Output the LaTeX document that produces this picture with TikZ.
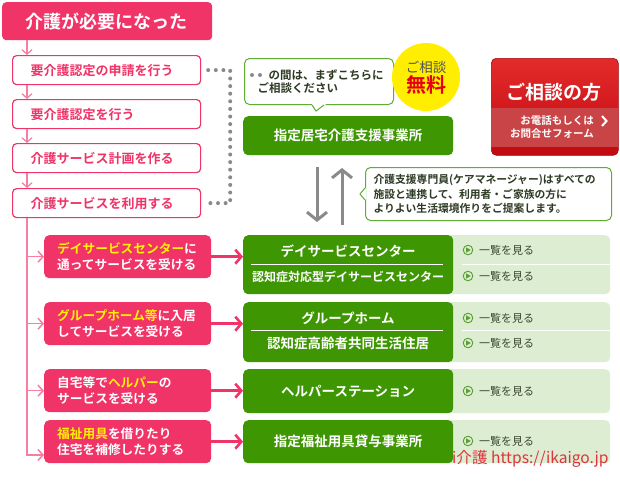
\documentclass[tikz,border=0pt]{standalone}
\usepackage{fontspec}
\setmainfont{Noto Sans CJK JP}[BoldFont={Noto Sans CJK JP Bold}]
\usetikzlibrary{arrows.meta,calc}
\definecolor{pk}{HTML}{F03468}
\definecolor{lpk}{HTML}{F47FA0}
\definecolor{gr}{HTML}{3E9702}
\definecolor{lgr}{HTML}{DCEDD2}
\definecolor{ye}{HTML}{FFF100}
\definecolor{cy}{HTML}{FFEE00}
\definecolor{dg}{HTML}{8A8A8A}
\definecolor{tx}{HTML}{2E3B24}
\definecolor{lk}{HTML}{3A4630}
\definecolor{rd}{HTML}{E60012}
\definecolor{bubg}{HTML}{5FAE34}
\definecolor{icg}{HTML}{5A9E36}
\definecolor{btop}{HTML}{E42B2B}
\definecolor{bbot}{HTML}{C00A10}
\definecolor{bband}{HTML}{C94446}
\definecolor{wm}{HTML}{E0323C}
\newcommand{\fsz}[2]{\fontsize{#1}{#2}\selectfont}
\newcommand{\hly}[1]{\textcolor{ye}{#1}}
\tikzset{
  topbox/.style={anchor=north west, fill=pk, rounded corners=4pt, minimum width=210pt, minimum height=38pt,
    inner xsep=23pt, inner ysep=0pt, text width=164pt, align=left, text=white, font=\bfseries\fsz{18}{18}},
  stepbox/.style={anchor=north west, draw=pk, line width=1.2pt, fill=white, rounded corners=4pt,
    minimum width=188pt, minimum height=29pt, inner xsep=18pt, inner ysep=0pt, text width=152pt,
    align=left, text=pk, font=\bfseries\fsz{13}{13}},
  pinkbox/.style={anchor=north west, fill=pk, rounded corners=5pt, minimum width=167pt, minimum height=43pt,
    inner xsep=13pt, inner ysep=0pt, text width=141pt, align=left, text=white, font=\bfseries\fsz{12.7}{16}},
  gbox/.style={anchor=north west, fill=gr, rounded corners=5pt, minimum width=210pt, inner sep=0pt,
    text=white, font=\bfseries\fsz{13.5}{13.5}},
  panel/.style={anchor=north west, fill=lgr, rounded corners=5pt, minimum width=170pt, inner sep=0pt},
  gtext/.style={text=white, font=\bfseries\fsz{13.5}{13.5}, inner sep=0pt},
  linktext/.style={anchor=west, text=lk, font=\fsz{11}{11}, inner sep=0pt},
  icon/.style={draw=icg, line width=0.9pt},
  bubble/.style={anchor=north west, draw=bubg, line width=1pt, fill=white, rounded corners=5pt, inner ysep=0pt,
    align=left, text=tx},
  smallarr/.style={draw=lpk, line width=1.2pt, -{Straight Barb[length=4.5pt,width=10pt]}},
  branch/.style={draw=lpk, line width=1.5pt, -{Straight Barb[length=5pt,width=11pt]}},
  parr/.style={draw=pk, line width=2.6pt, -{Straight Barb[length=6pt,width=14pt]}},
  grayarr/.style={draw=dg, line width=3pt, -{Straight Barb[length=8pt,width=20pt]}},
  dotline/.style={draw=dg, line width=4pt, line cap=round, dash pattern=on 0pt off 7.6pt},
}
\newcommand{\linkrow}[2]{%
  \draw[icon] (468,#2) circle (4.8);
  \fill[icg] (466.2,#2-2.6) -- (470.8,#2) -- (466.2,#2+2.6) -- cycle;
  \node[linktext] (#1) at (479,#2) {一覧を見る};
}
\begin{document}
\begin{tikzpicture}[x=1pt,y=-1pt]
\useasboundingbox[fill=white] (0,0) rectangle (620,482);

% --- left column, top
\node[topbox] (need) at (2,2) {介護が必要になった};
\node[stepbox] (s1) at (12,55) {要介護認定の申請を行う};
\node[stepbox] (s2) at (12,99) {要介護認定を行う};
\node[stepbox] (s3) at (12,143) {介護サービス計画を作る};
\node[stepbox] (s4) at (12,188) {介護サービスを利用する};
\coordinate (col) at (27,0);
\draw[smallarr] (need.south -| col) -- (s1.north -| col);
\draw[smallarr] (s1.south -| col) -- (s2.north -| col);
\draw[smallarr] (s2.south -| col) -- (s3.north -| col);
\draw[smallarr] (s3.south -| col) -- (s4.north -| col);

% dotted bracket
\draw[dotline] ($(s1.east)+(7,0)$) -- ++(22,0) |- ($(s4.east)+(7,0)$);

% --- consultation bubble
\node[bubble, minimum width=149pt, minimum height=46pt, inner xsep=13pt, text width=123pt,
  font=\bfseries\fsz{11.5}{13.5}] (ask) at (244,58) {\hspace*{11pt}の間は、まずこちらに\\ご相談ください};
\fill[white] ($(ask.south)+(-7,-0.8)$) -- ($(ask.south)+(-3,6)$) -- ($(ask.south)+(7,-0.8)$) -- cycle;
\draw[bubg, line width=1pt] ($(ask.south)+(-7,0)$) -- ($(ask.south)+(-3,6)$) -- ($(ask.south)+(5,0)$);
\fill[dg] (252,75) circle (2) (260,75) circle (2);

% free circle
\node[circle, fill=cy, minimum size=68pt, inner sep=0pt] (free) at (426,77) {};
\node[text=black!68, font=\fsz{13.5}{13.5}, inner sep=0pt] (freeA) at (426,67) {ご相談};
\node[text=rd, font=\bfseries\fsz{20}{20}, inner sep=0pt] (freeB) at (426,85) {無料};

% care manager office
\node[gbox, minimum height=39pt] (care) at (243,116) {指定居宅介護支援事業所};

% gray arrows
\coordinate (dnA) at (317,167);
\coordinate (dnB) at (317,222);
\coordinate (upA) at (342,225);
\coordinate (upB) at (342,168);
\draw[grayarr] (dnA) -- (dnB);
\draw[grayarr] (upA) -- (upB);

% care manager note
\node[bubble, minimum width=246pt, minimum height=53pt, inner xsep=8pt, text width=230pt,
  font=\bfseries\fsz{10.8}{14.5}] (note) at (365,167)
  {介護支援専門員(ケアマネージャー)はすべての\\施設と連携して、利用者・ご家族の方に\\よりよい生活環境作りをご提案します。};
\fill[white] ($(note.west)+(0.8,-6)$) -- ($(note.west)+(-5,0)$) -- ($(note.west)+(0.8,6)$) -- cycle;
\draw[bubg, line width=1pt] ($(note.west)+(0,-6)$) -- ($(note.west)+(-5,0)$) -- ($(note.west)+(0,6)$);

% red consultation button
\node[anchor=north west, minimum width=127pt, minimum height=97pt, rounded corners=5pt,
  top color=btop, bottom color=bbot, draw=bbot!85!black, line width=0.6pt, inner sep=0pt] (cons) at (491,58) {};
\fill[bband] (491.4,108) rectangle (617.6,147);
\node[text=white, font=\bfseries\fsz{19}{19}, inner sep=0pt] (consT) at (554,92) {ご相談の方};
\node[anchor=east, align=right, text=white, font=\bfseries\fsz{10.5}{13}, inner sep=0pt] (consS) at (594,127)
  {お電話もしくは\\お問合せフォーム};
\draw[white, line width=2pt] (602,116) -- (606.5,121) -- (602,126);

% --- lower section
\node[pinkbox] (p1) at (44,235) {\hly{デイサービスセンター}に\\通ってサービスを受ける};
\node[pinkbox] (p2) at (44,302) {\hly{グループホーム等}に入居\\してサービスを受ける};
\node[pinkbox] (p3) at (44,369) {自宅等で\hly{ヘルパー}の\\サービスを受ける};
\node[pinkbox] (p4) at (44,420) {\hly{福祉用具}を借りたり\\住宅を補修したりする};

\coordinate (b4) at (44,455);
\draw[branch] (s4.south -| col) |- (b4);
\draw[branch] (col |- p1.west) -- (p1.west);
\draw[branch] (col |- p2.west) -- (p2.west);
\draw[branch] (col |- p3.west) -- (p3.west);

% panels
\node[panel, minimum height=59pt] (l1) at (440,235) {};
\node[panel, minimum height=60pt] (l2) at (440,302) {};
\node[panel, minimum height=44pt] (l3) at (440,369) {};
\node[panel, minimum height=43pt] (l4) at (440,420) {};

% green service boxes
\node[gbox, minimum height=59pt] (g1) at (243,235) {};
\node[gbox, minimum height=60pt] (g2) at (243,302) {};
\node[gbox, minimum height=44pt] (g3) at (243,369) {ヘルパーステーション};
\node[gbox, minimum height=43pt] (g4) at (243,420) {指定福祉用具貸与事業所};

\node[gtext] (g1a) at (348,251) {デイサービスセンター};
\draw[white, line width=1pt] (251,264) -- (443,264);
\node[gtext, font=\bfseries\fsz{12}{12}] (g1b) at (348,277) {認知症対応型デイサービスセンター};
\node[gtext] (g2a) at (348,318) {グループホーム};
\draw[white, line width=1pt] (251,330) -- (443,330);
\node[gtext] (g2b) at (348,343) {認知症高齢者共同生活住居};

\draw[parr] (p1.east) -- (p1.east -| g1.west);
\draw[parr] (p2.east) -- (p2.east -| g2.west);
\draw[parr] (p3.east) -- (p3.east -| g3.west);
\draw[parr] (p4.east) -- (p4.east -| g4.west);

% link rows
\draw[white, line width=1pt] (462,264) -- (610,264);
\draw[white, line width=1pt] (462,330) -- (610,330);
\linkrow{k1}{250}
\linkrow{k2}{276}
\linkrow{k3}{318}
\linkrow{k4}{343}
\linkrow{k5}{391}
\linkrow{k6}{441}

% watermark text
\node[anchor=west, text=wm, font=\fsz{15.6}{15.6}, inner sep=0pt] (wmk) at (452,459) {i介護 https://ikaigo.jp};
\end{tikzpicture}
\end{document}
